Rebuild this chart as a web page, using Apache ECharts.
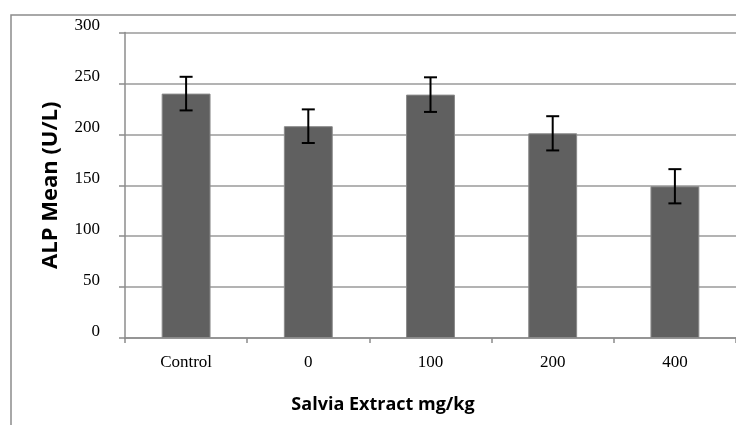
<!DOCTYPE html>
<html>
<head>
<meta charset="utf-8">
<script src="https://cdn.jsdelivr.net/npm/echarts@6/dist/echarts.min.js"></script>
<style>
  html, body { margin: 0; padding: 0; background: #fff; }
  #chart { width: 736px; height: 425px; }
</style>
</head>
<body>
<div id="chart"></div>
<script>
// values
const categories = ['Control', '0', '100', '200', '400'];
const alpMean = [240, 208, 239, 201, 149];
const alpErr = [16.5, 16.5, 17, 16.8, 16.8];

const serif = '"Liberation Serif", "DejaVu Serif", serif';
const sans = '"Open Sans", "DejaVu Sans", sans-serif';

const errData = categories.map((c, i) => [i, alpMean[i] - alpErr[i], alpMean[i] + alpErr[i]]);

const chart = echarts.init(document.getElementById('chart'));

chart.setOption({
  animation: false,
  grid: { left: 125, right: -5, top: 32.5, bottom: 87 },
  graphic: [
    // outer chart frame
    {
      type: 'rect',
      shape: { x: 11, y: 15, width: 760, height: 440 },
      style: { fill: 'none', stroke: '#8c8c8c', lineWidth: 1.5 },
      silent: true
    },
    {
      type: 'text',
      x: 383,
      y: 405,
      style: {
        text: 'Salvia Extract mg/kg',
        font: 'bold 18px ' + sans,
        fill: '#000',
        textAlign: 'center',
        textVerticalAlign: 'middle'
      }
    }
  ],
  xAxis: {
    type: 'category',
    data: categories,
    axisLine: { lineStyle: { color: '#8c8c8c', width: 1.5 } },
    axisTick: { show: true, length: 5, inside: false, lineStyle: { color: '#8c8c8c', width: 1.5 } },
    axisLabel: { fontFamily: serif, fontSize: 17, color: '#000', margin: 16 }
  },
  yAxis: {
    type: 'value',
    min: 0,
    max: 300,
    interval: 50,
    name: 'ALP Mean (U/L)',
    nameLocation: 'middle',
    nameGap: 63,
    nameTextStyle: { fontFamily: sans, fontWeight: 'bold', fontSize: 22, color: '#000' },
    axisLine: { show: true, lineStyle: { color: '#8c8c8c', width: 1.5 } },
    axisTick: { show: true, length: 6, lineStyle: { color: '#8c8c8c', width: 1.5 } },
    axisLabel: {
      fontFamily: serif, fontSize: 17, color: '#000', margin: 25,
      verticalAlign: 'bottom', lineHeight: 13
    },
    splitLine: { lineStyle: { color: '#9a9a9a', width: 1.5 } }
  },
  series: [
    {
      type: 'bar',
      data: alpMean,
      barWidth: '40%',
      itemStyle: { color: '#606060', borderColor: '#8a8a8a', borderWidth: 1 }
    },
    {
      type: 'custom',
      data: errData,
      z: 10,
      renderItem: (params, api) => {
        const x = api.value(0);
        const lo = api.coord([x, api.value(1)]);
        const hi = api.coord([x, api.value(2)]);
        const half = 6.5;
        const style = { stroke: '#000', lineWidth: 2 };
        return {
          type: 'group',
          children: [
            { type: 'line', shape: { x1: hi[0], y1: hi[1], x2: lo[0], y2: lo[1] }, style },
            { type: 'line', shape: { x1: hi[0] - half, y1: hi[1], x2: hi[0] + half, y2: hi[1] }, style },
            { type: 'line', shape: { x1: lo[0] - half, y1: lo[1], x2: lo[0] + half, y2: lo[1] }, style }
          ]
        };
      }
    }
  ]
});
</script>
</body>
</html>
